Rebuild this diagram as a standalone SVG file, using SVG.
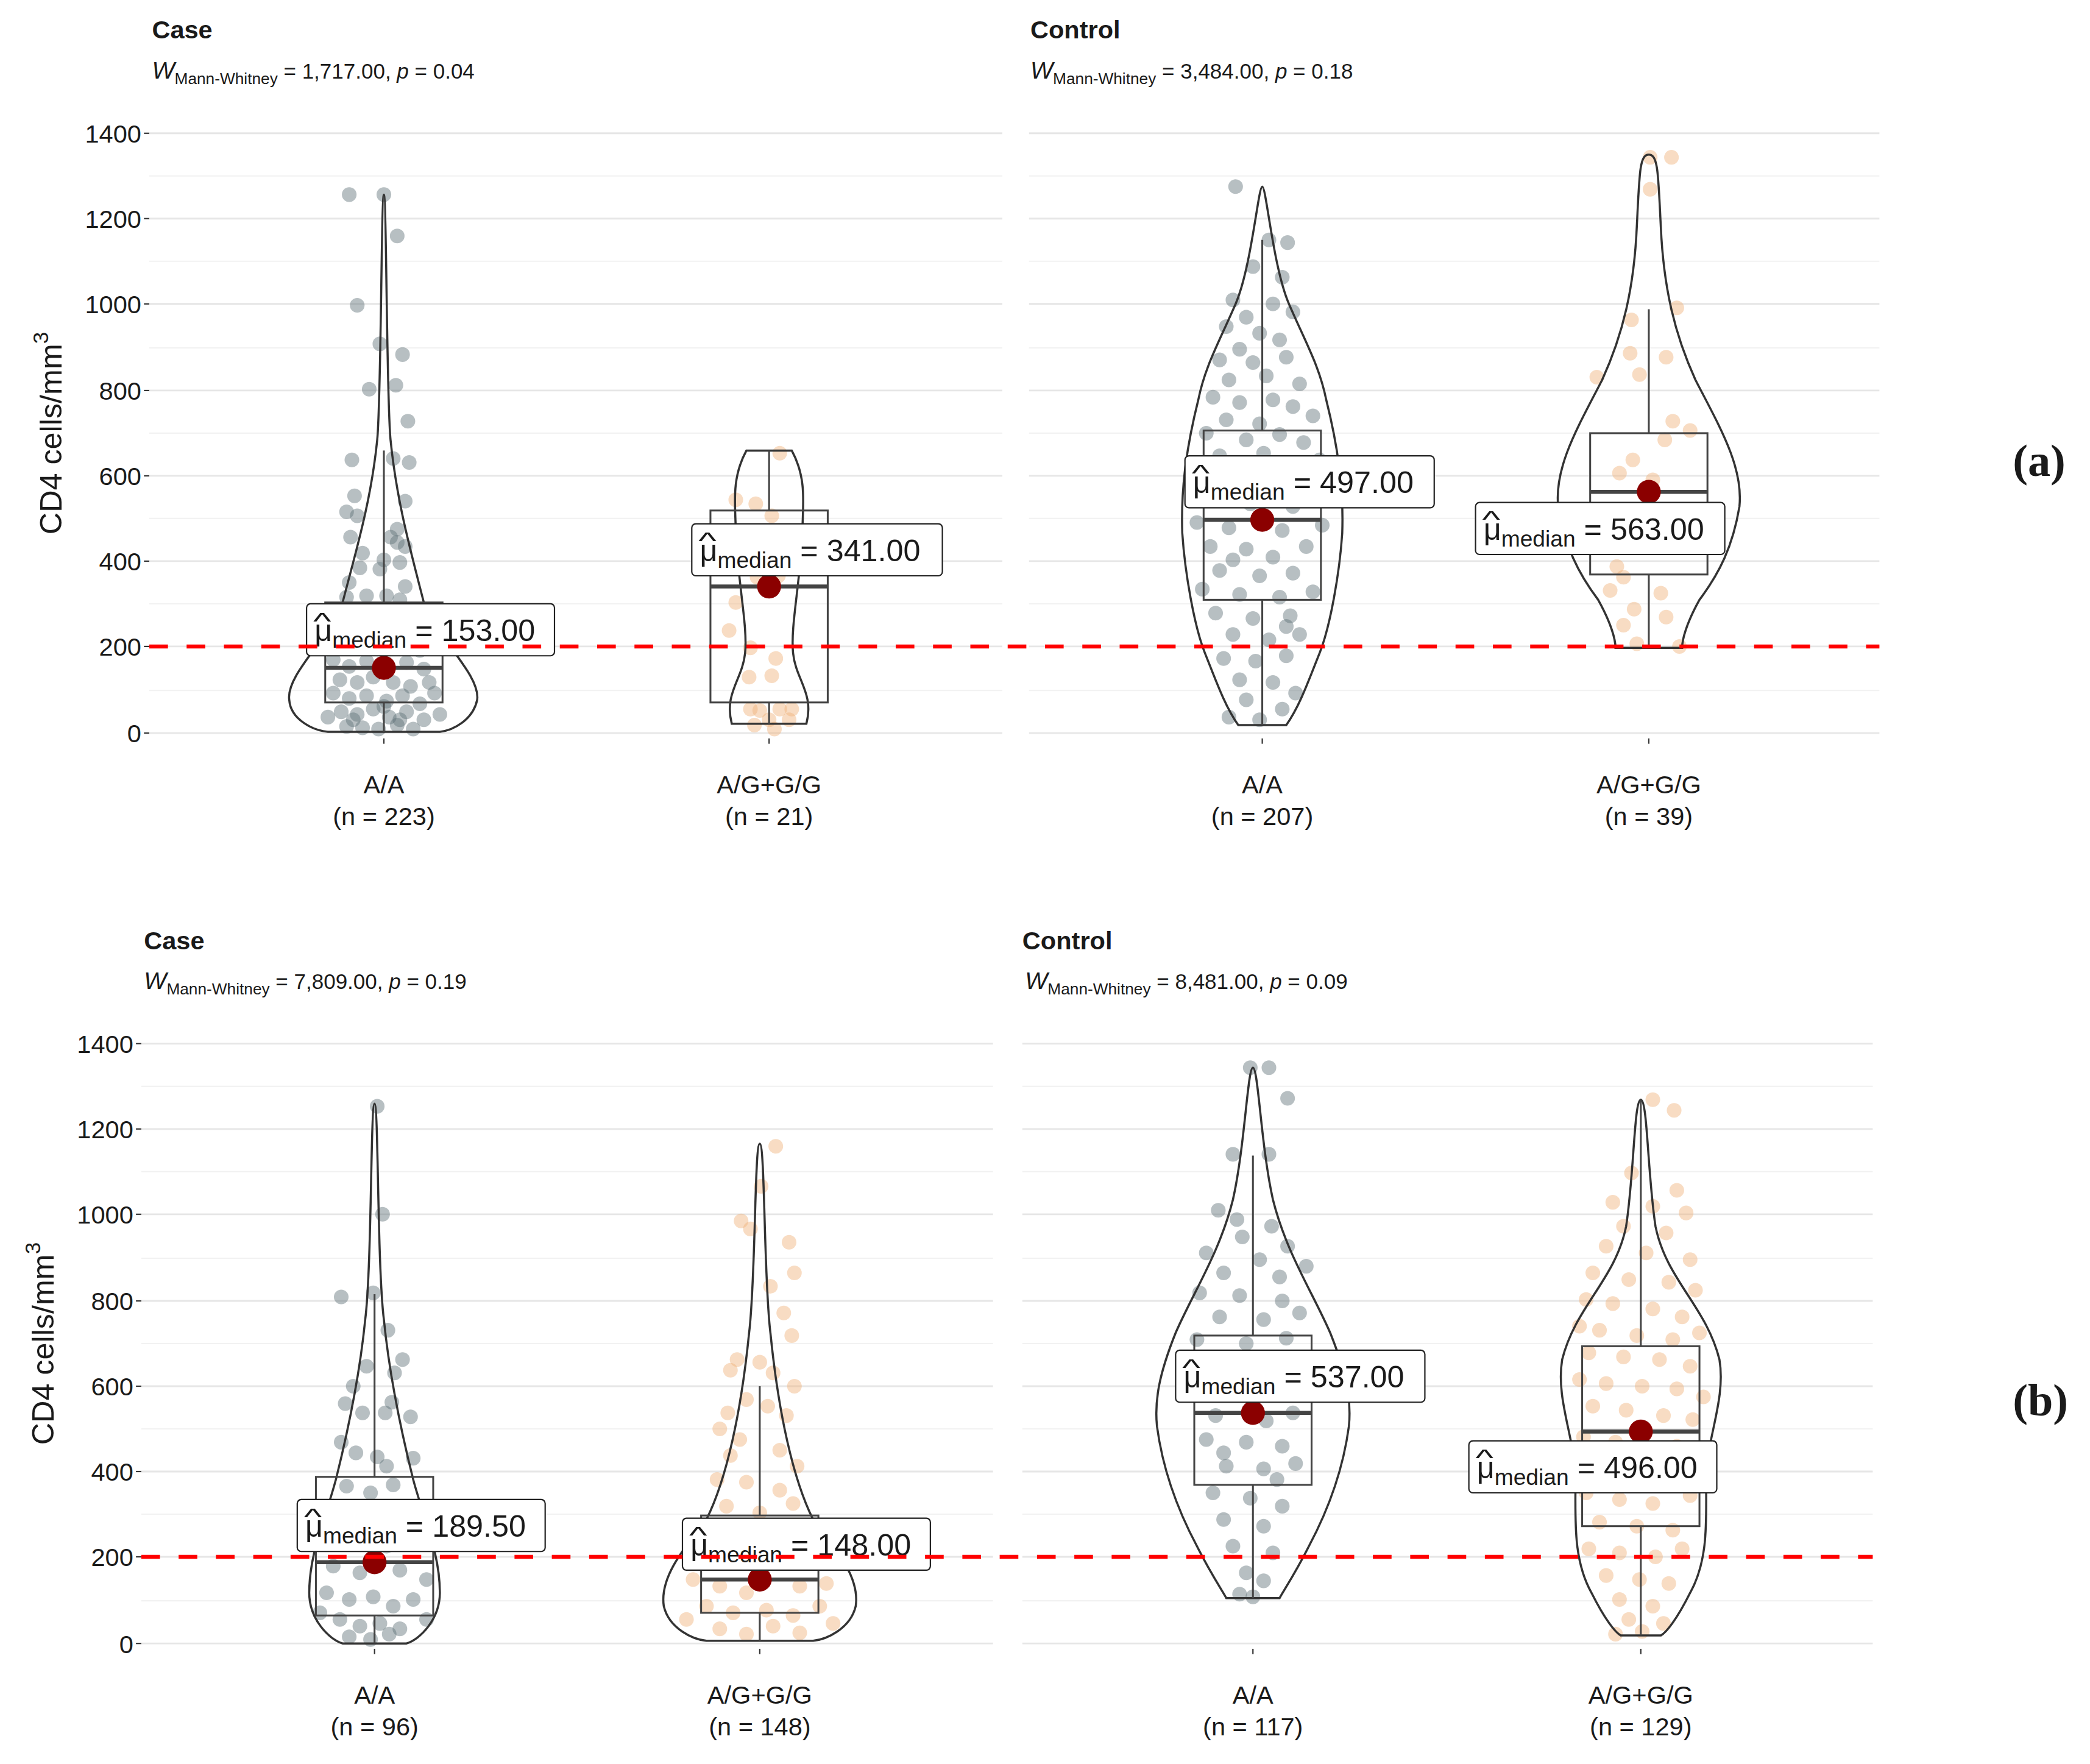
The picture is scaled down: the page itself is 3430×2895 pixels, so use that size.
<svg xmlns="http://www.w3.org/2000/svg" width="3430" height="2895" viewBox="0 0 3430 2895">
<style>
text{font-family:"Liberation Sans",Arial,sans-serif;fill:#1a1a1a}
.t{font-size:19px;font-weight:bold}
.s{font-size:16px}
.sub{font-size:12px}
.tk{font-size:19px;text-anchor:end}
.cx{font-size:19px;text-anchor:middle}
.yt{font-size:23px;text-anchor:middle}
.gM{stroke:#e6e6e6;stroke-width:1.3}
.gm{stroke:#f2f2f2;stroke-width:1}
.tick{stroke:#333;stroke-width:1}
.red{stroke:#ff0000;stroke-width:3;stroke-dasharray:14,14}
.vio{fill:none;stroke:#333;stroke-width:1.6}
.box{fill:none;stroke:#444;stroke-width:1.4}
.med{stroke:#444;stroke-width:3}
.wh{stroke:#444;stroke-width:1.4}
.dot{fill:#8b0000}
.lb{fill:#fff;stroke:#222;stroke-width:1}
.lt{font-size:23px}
.ls{font-size:17px}
.hat{font-size:18px}
.pg circle{fill:#5f7278;fill-opacity:0.45}
.po circle{fill:#f0b27a;fill-opacity:0.45}
.pl{font-family:"Liberation Serif","Times New Roman",serif;font-size:34px;font-weight:bold}
</style>
<rect width="3430" height="2895" fill="#fff"/>
<g transform="scale(2.1875)">
<g id="panel-a-case">
<text class="t" x="114" y="29">Case</text>
<text class="s" x="114" y="59"><tspan font-style="italic" font-size="18px">W</tspan><tspan class="sub" dy="4">Mann-Whitney</tspan><tspan dy="-4"> = 1,717.00, </tspan><tspan font-style="italic">p</tspan> = 0.04</text>
<g>
<line class="gm" x1="112" x2="752" y1="132" y2="132"/><line class="gm" x1="112" x2="752" y1="196" y2="196"/><line class="gm" x1="112" x2="752" y1="261" y2="261"/><line class="gm" x1="112" x2="752" y1="325" y2="325"/><line class="gm" x1="112" x2="752" y1="389" y2="389"/><line class="gm" x1="112" x2="752" y1="453" y2="453"/><line class="gm" x1="112" x2="752" y1="518" y2="518"/>
<line class="gM" x1="112" x2="752" y1="100" y2="100"/><line class="gM" x1="112" x2="752" y1="164" y2="164"/><line class="gM" x1="112" x2="752" y1="228" y2="228"/><line class="gM" x1="112" x2="752" y1="293" y2="293"/><line class="gM" x1="112" x2="752" y1="357" y2="357"/><line class="gM" x1="112" x2="752" y1="421" y2="421"/><line class="gM" x1="112" x2="752" y1="485" y2="485"/><line class="gM" x1="112" x2="752" y1="550" y2="550"/>
</g>
<g class="tick"><line x1="108" x2="112" y1="100" y2="100"/><line x1="108" x2="112" y1="164" y2="164"/><line x1="108" x2="112" y1="228" y2="228"/><line x1="108" x2="112" y1="293" y2="293"/><line x1="108" x2="112" y1="357" y2="357"/><line x1="108" x2="112" y1="421" y2="421"/><line x1="108" x2="112" y1="485" y2="485"/><line x1="108" x2="112" y1="550" y2="550"/><line x1="288" x2="288" y1="554" y2="558"/><line x1="577" x2="577" y1="554" y2="558"/></g>
<text class="tk" x="106" y="107">1400</text><text class="tk" x="106" y="171">1200</text><text class="tk" x="106" y="235">1000</text><text class="tk" x="106" y="300">800</text><text class="tk" x="106" y="364">600</text><text class="tk" x="106" y="428">400</text><text class="tk" x="106" y="492">200</text><text class="tk" x="106" y="557">0</text>
<text class="yt" transform="translate(46,325) rotate(-90)">CD4 cells/mm<tspan font-size="16px" dy="-10">3</tspan></text>
<text class="cx" x="288" y="595">A/A</text><text class="cx" x="288" y="619">(n = 223)</text>
<text class="cx" x="577" y="595">A/G+G/G</text><text class="cx" x="577" y="619">(n = 21)</text>
<g class="pg">
<circle cx="262" cy="146" r="5.5"/><circle cx="288" cy="146" r="5.5"/><circle cx="298" cy="177" r="5.5"/><circle cx="268" cy="229" r="5.5"/><circle cx="285" cy="258" r="5.5"/><circle cx="302" cy="266" r="5.5"/><circle cx="277" cy="292" r="5.5"/><circle cx="297" cy="289" r="5.5"/><circle cx="306" cy="316" r="5.5"/><circle cx="264" cy="345" r="5.5"/><circle cx="295" cy="344" r="5.5"/><circle cx="307" cy="347" r="5.5"/><circle cx="266" cy="372" r="5.5"/><circle cx="304" cy="376" r="5.5"/><circle cx="260" cy="384" r="5.5"/><circle cx="268" cy="387" r="5.5"/><circle cx="298" cy="397" r="5.5"/><circle cx="263" cy="403" r="5.5"/><circle cx="304" cy="410" r="5.5"/><circle cx="272" cy="415" r="5.5"/><circle cx="288" cy="420" r="5.5"/><circle cx="304" cy="440" r="5.5"/><circle cx="262" cy="437" r="5.5"/><circle cx="293" cy="403" r="5.5"/><circle cx="298" cy="407" r="5.5"/><circle cx="270" cy="426" r="5.5"/><circle cx="285" cy="427" r="5.5"/><circle cx="300" cy="422" r="5.5"/><circle cx="260" cy="448" r="5.5"/><circle cx="275" cy="447" r="5.5"/><circle cx="290" cy="447" r="5.5"/><circle cx="300" cy="450" r="5.5"/>
<circle cx="252" cy="470" r="5.5"/><circle cx="262" cy="468" r="5.5"/><circle cx="276" cy="462" r="5.5"/><circle cx="295" cy="465" r="5.5"/><circle cx="310" cy="470" r="5.5"/><circle cx="320" cy="475" r="5.5"/><circle cx="258" cy="480" r="5.5"/><circle cx="270" cy="485" r="5.5"/><circle cx="285" cy="478" r="5.5"/><circle cx="300" cy="482" r="5.5"/><circle cx="315" cy="488" r="5.5"/><circle cx="250" cy="495" r="5.5"/><circle cx="262" cy="500" r="5.5"/><circle cx="275" cy="496" r="5.5"/><circle cx="305" cy="497" r="5.5"/><circle cx="318" cy="502" r="5.5"/><circle cx="255" cy="510" r="5.5"/><circle cx="268" cy="512" r="5.5"/><circle cx="280" cy="508" r="5.5"/><circle cx="295" cy="512" r="5.5"/><circle cx="308" cy="515" r="5.5"/><circle cx="322" cy="512" r="5.5"/><circle cx="250" cy="520" r="5.5"/><circle cx="262" cy="524" r="5.5"/><circle cx="275" cy="522" r="5.5"/><circle cx="290" cy="526" r="5.5"/><circle cx="302" cy="522" r="5.5"/><circle cx="315" cy="528" r="5.5"/><circle cx="326" cy="520" r="5.5"/><circle cx="256" cy="534" r="5.5"/><circle cx="268" cy="536" r="5.5"/><circle cx="280" cy="532" r="5.5"/><circle cx="292" cy="538" r="5.5"/><circle cx="305" cy="534" r="5.5"/><circle cx="318" cy="540" r="5.5"/><circle cx="260" cy="545" r="5.5"/><circle cx="272" cy="546" r="5.5"/><circle cx="284" cy="547" r="5.5"/><circle cx="298" cy="544" r="5.5"/><circle cx="310" cy="547" r="5.5"/><circle cx="246" cy="538" r="5.5"/><circle cx="330" cy="536" r="5.5"/><circle cx="265" cy="540" r="5.5"/><circle cx="300" cy="540" r="5.5"/><circle cx="288" cy="530" r="5.5"/>
</g>
<g class="po">
<circle cx="585" cy="340" r="5.5"/><circle cx="552" cy="375" r="5.5"/><circle cx="567" cy="378" r="5.5"/><circle cx="579" cy="387" r="5.5"/><circle cx="568" cy="433" r="5.5"/><circle cx="584" cy="432" r="5.5"/><circle cx="552" cy="452" r="5.5"/><circle cx="547" cy="473" r="5.5"/><circle cx="563" cy="486" r="5.5"/><circle cx="582" cy="494" r="5.5"/><circle cx="562" cy="508" r="5.5"/><circle cx="579" cy="507" r="5.5"/><circle cx="563" cy="532" r="5.5"/><circle cx="570" cy="533" r="5.5"/><circle cx="585" cy="532" r="5.5"/><circle cx="577" cy="540" r="5.5"/><circle cx="594" cy="532" r="5.5"/><circle cx="566" cy="544" r="5.5"/><circle cx="592" cy="540" r="5.5"/><circle cx="581" cy="547" r="5.5"/>
</g>
<path class="vio" d="M288,146 C290,146 290,300 293,330 C298,380 310,420 320,460 C340,490 360,510 358,525 C355,540 340,548 330,549 L246,549 C235,548 218,540 217,525 C215,510 235,490 255,460 C265,420 278,380 283,330 C286,300 286,146 288,146 Z"/>
<line class="wh" x1="288" x2="288" y1="338" y2="452"/><line class="wh" x1="288" x2="288" y1="527" y2="550"/>
<rect class="box" x="244" y="452" width="88" height="75"/><line class="med" x1="244" x2="332" y1="501" y2="501"/>
<path class="vio" d="M560,338 L594,338 C606,360 602,380 602,400 C600,440 593,470 595,490 C597,510 611,520 605,543 L549,543 C543,520 557,510 559,490 C561,470 554,440 552,400 C552,380 548,360 560,338 Z"/>
<line class="wh" x1="577" x2="577" y1="338" y2="383"/><line class="wh" x1="577" x2="577" y1="527" y2="543"/>
<rect class="box" x="533" y="383" width="88" height="144"/><line class="med" x1="533" x2="621" y1="440" y2="440"/>
</g>
<g id="panel-a-control">
<text class="t" x="773" y="29">Control</text>
<text class="s" x="773" y="59"><tspan font-style="italic" font-size="18px">W</tspan><tspan class="sub" dy="4">Mann-Whitney</tspan><tspan dy="-4"> = 3,484.00, </tspan><tspan font-style="italic">p</tspan> = 0.18</text>
<g>
<line class="gm" x1="772" x2="1410" y1="132" y2="132"/><line class="gm" x1="772" x2="1410" y1="196" y2="196"/><line class="gm" x1="772" x2="1410" y1="261" y2="261"/><line class="gm" x1="772" x2="1410" y1="325" y2="325"/><line class="gm" x1="772" x2="1410" y1="389" y2="389"/><line class="gm" x1="772" x2="1410" y1="453" y2="453"/><line class="gm" x1="772" x2="1410" y1="518" y2="518"/>
<line class="gM" x1="772" x2="1410" y1="100" y2="100"/><line class="gM" x1="772" x2="1410" y1="164" y2="164"/><line class="gM" x1="772" x2="1410" y1="228" y2="228"/><line class="gM" x1="772" x2="1410" y1="293" y2="293"/><line class="gM" x1="772" x2="1410" y1="357" y2="357"/><line class="gM" x1="772" x2="1410" y1="421" y2="421"/><line class="gM" x1="772" x2="1410" y1="485" y2="485"/><line class="gM" x1="772" x2="1410" y1="550" y2="550"/>
</g>
<g class="tick"><line x1="947" x2="947" y1="554" y2="558"/><line x1="1237" x2="1237" y1="554" y2="558"/></g>
<text class="cx" x="947" y="595">A/A</text><text class="cx" x="947" y="619">(n = 207)</text>
<text class="cx" x="1237" y="595">A/G+G/G</text><text class="cx" x="1237" y="619">(n = 39)</text>
<g class="pg">
<circle cx="927" cy="140" r="5.5"/><circle cx="952" cy="180" r="5.5"/><circle cx="966" cy="182" r="5.5"/><circle cx="940" cy="200" r="5.5"/><circle cx="962" cy="208" r="5.5"/><circle cx="925" cy="225" r="5.5"/><circle cx="955" cy="228" r="5.5"/><circle cx="935" cy="238" r="5.5"/><circle cx="970" cy="234" r="5.5"/><circle cx="920" cy="245" r="5.5"/><circle cx="945" cy="250" r="5.5"/><circle cx="960" cy="255" r="5.5"/><circle cx="930" cy="262" r="5.5"/><circle cx="915" cy="270" r="5.5"/><circle cx="940" cy="272" r="5.5"/><circle cx="965" cy="268" r="5.5"/><circle cx="922" cy="285" r="5.5"/><circle cx="950" cy="282" r="5.5"/><circle cx="975" cy="288" r="5.5"/><circle cx="910" cy="298" r="5.5"/><circle cx="930" cy="302" r="5.5"/><circle cx="955" cy="300" r="5.5"/><circle cx="970" cy="305" r="5.5"/><circle cx="920" cy="315" r="5.5"/><circle cx="945" cy="318" r="5.5"/><circle cx="985" cy="312" r="5.5"/><circle cx="905" cy="325" r="5.5"/><circle cx="935" cy="330" r="5.5"/><circle cx="960" cy="326" r="5.5"/><circle cx="978" cy="332" r="5.5"/><circle cx="915" cy="342" r="5.5"/><circle cx="948" cy="340" r="5.5"/><circle cx="968" cy="348" r="5.5"/><circle cx="990" cy="345" r="5.5"/><circle cx="900" cy="356" r="5.5"/><circle cx="928" cy="360" r="5.5"/><circle cx="958" cy="362" r="5.5"/><circle cx="982" cy="366" r="5.5"/><circle cx="910" cy="375" r="5.5"/><circle cx="938" cy="378" r="5.5"/><circle cx="970" cy="380" r="5.5"/><circle cx="898" cy="392" r="5.5"/><circle cx="922" cy="396" r="5.5"/><circle cx="962" cy="398" r="5.5"/><circle cx="992" cy="394" r="5.5"/><circle cx="908" cy="410" r="5.5"/><circle cx="935" cy="412" r="5.5"/><circle cx="955" cy="418" r="5.5"/><circle cx="980" cy="410" r="5.5"/><circle cx="915" cy="428" r="5.5"/><circle cx="945" cy="432" r="5.5"/><circle cx="970" cy="430" r="5.5"/><circle cx="902" cy="442" r="5.5"/><circle cx="930" cy="446" r="5.5"/><circle cx="960" cy="448" r="5.5"/><circle cx="985" cy="444" r="5.5"/><circle cx="912" cy="460" r="5.5"/><circle cx="940" cy="464" r="5.5"/><circle cx="968" cy="462" r="5.5"/><circle cx="925" cy="476" r="5.5"/><circle cx="952" cy="480" r="5.5"/><circle cx="975" cy="476" r="5.5"/><circle cx="918" cy="494" r="5.5"/><circle cx="942" cy="496" r="5.5"/><circle cx="965" cy="492" r="5.5"/><circle cx="930" cy="510" r="5.5"/><circle cx="955" cy="512" r="5.5"/><circle cx="972" cy="520" r="5.5"/><circle cx="935" cy="525" r="5.5"/><circle cx="922" cy="538" r="5.5"/><circle cx="945" cy="540" r="5.5"/><circle cx="962" cy="532" r="5.5"/><circle cx="950" cy="352" r="5.5"/><circle cx="925" cy="420" r="5.5"/><circle cx="965" cy="470" r="5.5"/>
</g>
<g class="po">
<circle cx="1238" cy="118" r="5.5"/><circle cx="1254" cy="118" r="5.5"/><circle cx="1238" cy="142" r="5.5"/><circle cx="1258" cy="231" r="5.5"/><circle cx="1224" cy="240" r="5.5"/><circle cx="1223" cy="265" r="5.5"/><circle cx="1250" cy="268" r="5.5"/><circle cx="1198" cy="283" r="5.5"/><circle cx="1230" cy="281" r="5.5"/><circle cx="1255" cy="316" r="5.5"/><circle cx="1268" cy="323" r="5.5"/><circle cx="1249" cy="330" r="5.5"/><circle cx="1225" cy="345" r="5.5"/><circle cx="1215" cy="355" r="5.5"/><circle cx="1240" cy="360" r="5.5"/><circle cx="1213" cy="425" r="5.5"/><circle cx="1218" cy="433" r="5.5"/><circle cx="1246" cy="445" r="5.5"/><circle cx="1208" cy="443" r="5.5"/><circle cx="1226" cy="457" r="5.5"/><circle cx="1218" cy="469" r="5.5"/><circle cx="1250" cy="463" r="5.5"/><circle cx="1228" cy="483" r="5.5"/><circle cx="1260" cy="485" r="5.5"/>
</g>
<path class="vio" d="M947,140 C950,140 955,200 967,228 C980,258 990,275 995,300 C1005,340 1008,370 1007,400 C1005,430 998,470 990,490 C982,510 975,530 965,544 L929,544 C919,530 912,510 904,490 C896,470 889,430 887,400 C886,370 889,340 899,300 C904,275 914,258 927,228 C939,200 944,140 947,140 Z"/>
<line class="wh" x1="947" x2="947" y1="180" y2="323"/><line class="wh" x1="947" x2="947" y1="450" y2="544"/>
<rect class="box" x="903" y="323" width="88" height="127"/><line class="med" x1="903" x2="991" y1="390" y2="390"/>
<path class="vio" d="M1237,116 C1244,116 1244,130 1246,170 C1248,215 1256,250 1272,285 C1290,320 1308,350 1305,380 C1300,410 1290,430 1275,450 C1265,468 1262,480 1262,486 L1212,486 C1212,480 1209,468 1199,450 C1184,430 1174,410 1169,380 C1166,350 1184,320 1202,285 C1218,250 1226,215 1228,170 C1230,130 1230,116 1237,116 Z"/>
<line class="wh" x1="1237" x2="1237" y1="232" y2="325"/><line class="wh" x1="1237" x2="1237" y1="431" y2="486"/>
<rect class="box" x="1193" y="325" width="88" height="106"/><line class="med" x1="1193" x2="1281" y1="369" y2="369"/>
</g>
<g id="panel-b-case">
<text class="t" x="108" y="712">Case</text>
<text class="s" x="108" y="742"><tspan font-style="italic" font-size="18px">W</tspan><tspan class="sub" dy="4">Mann-Whitney</tspan><tspan dy="-4"> = 7,809.00, </tspan><tspan font-style="italic">p</tspan> = 0.19</text>
<g>
<line class="gm" x1="106" x2="745" y1="815" y2="815"/><line class="gm" x1="106" x2="745" y1="879" y2="879"/><line class="gm" x1="106" x2="745" y1="944" y2="944"/><line class="gm" x1="106" x2="745" y1="1008" y2="1008"/><line class="gm" x1="106" x2="745" y1="1072" y2="1072"/><line class="gm" x1="106" x2="745" y1="1136" y2="1136"/><line class="gm" x1="106" x2="745" y1="1201" y2="1201"/>
<line class="gM" x1="106" x2="745" y1="783" y2="783"/><line class="gM" x1="106" x2="745" y1="847" y2="847"/><line class="gM" x1="106" x2="745" y1="911" y2="911"/><line class="gM" x1="106" x2="745" y1="976" y2="976"/><line class="gM" x1="106" x2="745" y1="1040" y2="1040"/><line class="gM" x1="106" x2="745" y1="1104" y2="1104"/><line class="gM" x1="106" x2="745" y1="1168" y2="1168"/><line class="gM" x1="106" x2="745" y1="1233" y2="1233"/>
</g>
<g class="tick"><line x1="102" x2="106" y1="783" y2="783"/><line x1="102" x2="106" y1="847" y2="847"/><line x1="102" x2="106" y1="911" y2="911"/><line x1="102" x2="106" y1="976" y2="976"/><line x1="102" x2="106" y1="1040" y2="1040"/><line x1="102" x2="106" y1="1104" y2="1104"/><line x1="102" x2="106" y1="1168" y2="1168"/><line x1="102" x2="106" y1="1233" y2="1233"/><line x1="281" x2="281" y1="1237" y2="1241"/><line x1="570" x2="570" y1="1237" y2="1241"/></g>
<text class="tk" x="100" y="790">1400</text><text class="tk" x="100" y="854">1200</text><text class="tk" x="100" y="918">1000</text><text class="tk" x="100" y="983">800</text><text class="tk" x="100" y="1047">600</text><text class="tk" x="100" y="1111">400</text><text class="tk" x="100" y="1175">200</text><text class="tk" x="100" y="1240">0</text>
<text class="yt" transform="translate(40,1008) rotate(-90)">CD4 cells/mm<tspan font-size="16px" dy="-10">3</tspan></text>
<text class="cx" x="281" y="1278">A/A</text><text class="cx" x="281" y="1302">(n = 96)</text>
<text class="cx" x="570" y="1278">A/G+G/G</text><text class="cx" x="570" y="1302">(n = 148)</text>
<g class="pg">
<circle cx="283" cy="830" r="5.5"/><circle cx="287" cy="911" r="5.5"/><circle cx="280" cy="970" r="5.5"/><circle cx="256" cy="973" r="5.5"/><circle cx="291" cy="998" r="5.5"/><circle cx="302" cy="1020" r="5.5"/><circle cx="275" cy="1025" r="5.5"/><circle cx="296" cy="1030" r="5.5"/><circle cx="265" cy="1040" r="5.5"/><circle cx="259" cy="1053" r="5.5"/><circle cx="294" cy="1052" r="5.5"/><circle cx="308" cy="1063" r="5.5"/><circle cx="272" cy="1060" r="5.5"/><circle cx="289" cy="1060" r="5.5"/><circle cx="256" cy="1082" r="5.5"/><circle cx="267" cy="1090" r="5.5"/><circle cx="283" cy="1093" r="5.5"/><circle cx="290" cy="1100" r="5.5"/><circle cx="310" cy="1094" r="5.5"/><circle cx="260" cy="1115" r="5.5"/><circle cx="278" cy="1120" r="5.5"/><circle cx="295" cy="1114" r="5.5"/><circle cx="250" cy="1130" r="5.5"/><circle cx="270" cy="1140" r="5.5"/><circle cx="300" cy="1135" r="5.5"/><circle cx="245" cy="1150" r="5.5"/><circle cx="262" cy="1158" r="5.5"/><circle cx="290" cy="1160" r="5.5"/><circle cx="315" cy="1150" r="5.5"/><circle cx="250" cy="1175" r="5.5"/><circle cx="270" cy="1180" r="5.5"/><circle cx="300" cy="1178" r="5.5"/><circle cx="320" cy="1185" r="5.5"/><circle cx="245" cy="1195" r="5.5"/><circle cx="262" cy="1200" r="5.5"/><circle cx="280" cy="1198" r="5.5"/><circle cx="295" cy="1205" r="5.5"/><circle cx="310" cy="1200" r="5.5"/><circle cx="255" cy="1215" r="5.5"/><circle cx="270" cy="1220" r="5.5"/><circle cx="285" cy="1218" r="5.5"/><circle cx="300" cy="1222" r="5.5"/><circle cx="262" cy="1228" r="5.5"/><circle cx="278" cy="1230" r="5.5"/><circle cx="292" cy="1226" r="5.5"/><circle cx="240" cy="1210" r="5.5"/><circle cx="320" cy="1215" r="5.5"/>
</g>
<g class="po">
<circle cx="582" cy="860" r="5.5"/><circle cx="571" cy="890" r="5.5"/><circle cx="556" cy="916" r="5.5"/><circle cx="563" cy="922" r="5.5"/><circle cx="592" cy="932" r="5.5"/><circle cx="596" cy="955" r="5.5"/><circle cx="578" cy="965" r="5.5"/><circle cx="588" cy="985" r="5.5"/><circle cx="594" cy="1002" r="5.5"/><circle cx="553" cy="1020" r="5.5"/><circle cx="548" cy="1028" r="5.5"/><circle cx="570" cy="1022" r="5.5"/><circle cx="580" cy="1030" r="5.5"/><circle cx="596" cy="1040" r="5.5"/><circle cx="560" cy="1050" r="5.5"/><circle cx="576" cy="1055" r="5.5"/><circle cx="546" cy="1060" r="5.5"/><circle cx="590" cy="1062" r="5.5"/><circle cx="540" cy="1072" r="5.5"/><circle cx="555" cy="1080" r="5.5"/><circle cx="585" cy="1088" r="5.5"/><circle cx="548" cy="1092" r="5.5"/><circle cx="598" cy="1100" r="5.5"/><circle cx="538" cy="1110" r="5.5"/><circle cx="560" cy="1112" r="5.5"/><circle cx="585" cy="1118" r="5.5"/><circle cx="545" cy="1130" r="5.5"/><circle cx="570" cy="1135" r="5.5"/><circle cx="595" cy="1128" r="5.5"/><circle cx="530" cy="1145" r="5.5"/><circle cx="555" cy="1150" r="5.5"/><circle cx="580" cy="1148" r="5.5"/><circle cx="605" cy="1155" r="5.5"/><circle cx="525" cy="1165" r="5.5"/><circle cx="545" cy="1170" r="5.5"/><circle cx="590" cy="1168" r="5.5"/><circle cx="612" cy="1172" r="5.5"/><circle cx="520" cy="1185" r="5.5"/><circle cx="540" cy="1190" r="5.5"/><circle cx="560" cy="1195" r="5.5"/><circle cx="600" cy="1190" r="5.5"/><circle cx="620" cy="1188" r="5.5"/><circle cx="530" cy="1205" r="5.5"/><circle cx="550" cy="1210" r="5.5"/><circle cx="575" cy="1208" r="5.5"/><circle cx="595" cy="1212" r="5.5"/><circle cx="615" cy="1205" r="5.5"/><circle cx="540" cy="1222" r="5.5"/><circle cx="560" cy="1226" r="5.5"/><circle cx="580" cy="1220" r="5.5"/><circle cx="600" cy="1225" r="5.5"/><circle cx="625" cy="1218" r="5.5"/><circle cx="515" cy="1215" r="5.5"/>
</g>
<path class="vio" d="M281,828 C284,828 283,950 288,990 C292,1030 300,1070 310,1110 C318,1140 330,1165 330,1195 C330,1215 315,1230 305,1233 L257,1233 C247,1230 232,1215 232,1195 C232,1165 244,1140 252,1110 C262,1070 270,1030 274,990 C279,950 278,828 281,828 Z"/>
<line class="wh" x1="281" x2="281" y1="971" y2="1108"/><line class="wh" x1="281" x2="281" y1="1212" y2="1233"/>
<rect class="box" x="237" y="1108" width="88" height="104"/><line class="med" x1="237" x2="325" y1="1172" y2="1172"/>
<path class="vio" d="M570,858 C574,858 573,960 578,1000 C584,1060 595,1110 610,1140 C630,1165 645,1185 642,1205 C638,1222 620,1230 610,1231 L530,1231 C520,1230 502,1222 498,1205 C495,1185 510,1165 530,1140 C545,1110 556,1060 562,1000 C567,960 566,858 570,858 Z"/>
<line class="wh" x1="570" x2="570" y1="1040" y2="1137"/><line class="wh" x1="570" x2="570" y1="1210" y2="1231"/>
<rect class="box" x="526" y="1137" width="88" height="73"/><line class="med" x1="526" x2="614" y1="1185" y2="1185"/>
</g>
<g id="panel-b-control">
<text class="t" x="767" y="712">Control</text>
<text class="s" x="769" y="742"><tspan font-style="italic" font-size="18px">W</tspan><tspan class="sub" dy="4">Mann-Whitney</tspan><tspan dy="-4"> = 8,481.00, </tspan><tspan font-style="italic">p</tspan> = 0.09</text>
<g>
<line class="gm" x1="767" x2="1405" y1="815" y2="815"/><line class="gm" x1="767" x2="1405" y1="879" y2="879"/><line class="gm" x1="767" x2="1405" y1="944" y2="944"/><line class="gm" x1="767" x2="1405" y1="1008" y2="1008"/><line class="gm" x1="767" x2="1405" y1="1072" y2="1072"/><line class="gm" x1="767" x2="1405" y1="1136" y2="1136"/><line class="gm" x1="767" x2="1405" y1="1201" y2="1201"/>
<line class="gM" x1="767" x2="1405" y1="783" y2="783"/><line class="gM" x1="767" x2="1405" y1="847" y2="847"/><line class="gM" x1="767" x2="1405" y1="911" y2="911"/><line class="gM" x1="767" x2="1405" y1="976" y2="976"/><line class="gM" x1="767" x2="1405" y1="1040" y2="1040"/><line class="gM" x1="767" x2="1405" y1="1104" y2="1104"/><line class="gM" x1="767" x2="1405" y1="1168" y2="1168"/><line class="gM" x1="767" x2="1405" y1="1233" y2="1233"/>
</g>
<g class="tick"><line x1="940" x2="940" y1="1237" y2="1241"/><line x1="1231" x2="1231" y1="1237" y2="1241"/></g>
<text class="cx" x="940" y="1278">A/A</text><text class="cx" x="940" y="1302">(n = 117)</text>
<text class="cx" x="1231" y="1278">A/G+G/G</text><text class="cx" x="1231" y="1302">(n = 129)</text>
<g class="pg">
<circle cx="938" cy="801" r="5.5"/><circle cx="952" cy="801" r="5.5"/><circle cx="966" cy="824" r="5.5"/><circle cx="925" cy="866" r="5.5"/><circle cx="952" cy="866" r="5.5"/><circle cx="914" cy="908" r="5.5"/><circle cx="928" cy="915" r="5.5"/><circle cx="954" cy="920" r="5.5"/><circle cx="932" cy="928" r="5.5"/><circle cx="966" cy="935" r="5.5"/><circle cx="905" cy="940" r="5.5"/><circle cx="945" cy="945" r="5.5"/><circle cx="918" cy="955" r="5.5"/><circle cx="960" cy="958" r="5.5"/><circle cx="980" cy="950" r="5.5"/><circle cx="900" cy="970" r="5.5"/><circle cx="930" cy="972" r="5.5"/><circle cx="962" cy="976" r="5.5"/><circle cx="915" cy="988" r="5.5"/><circle cx="948" cy="990" r="5.5"/><circle cx="975" cy="985" r="5.5"/><circle cx="898" cy="1005" r="5.5"/><circle cx="935" cy="1008" r="5.5"/><circle cx="965" cy="1004" r="5.5"/><circle cx="910" cy="1022" r="5.5"/><circle cx="945" cy="1025" r="5.5"/><circle cx="985" cy="1020" r="5.5"/><circle cx="902" cy="1040" r="5.5"/><circle cx="930" cy="1042" r="5.5"/><circle cx="960" cy="1045" r="5.5"/><circle cx="978" cy="1038" r="5.5"/><circle cx="912" cy="1062" r="5.5"/><circle cx="950" cy="1066" r="5.5"/><circle cx="970" cy="1060" r="5.5"/><circle cx="905" cy="1080" r="5.5"/><circle cx="935" cy="1082" r="5.5"/><circle cx="962" cy="1085" r="5.5"/><circle cx="920" cy="1100" r="5.5"/><circle cx="948" cy="1102" r="5.5"/><circle cx="972" cy="1098" r="5.5"/><circle cx="910" cy="1120" r="5.5"/><circle cx="938" cy="1124" r="5.5"/><circle cx="962" cy="1130" r="5.5"/><circle cx="918" cy="1140" r="5.5"/><circle cx="948" cy="1145" r="5.5"/><circle cx="925" cy="1160" r="5.5"/><circle cx="955" cy="1165" r="5.5"/><circle cx="935" cy="1180" r="5.5"/><circle cx="948" cy="1186" r="5.5"/><circle cx="930" cy="1196" r="5.5"/><circle cx="940" cy="1198" r="5.5"/><circle cx="918" cy="1090" r="5.5"/><circle cx="958" cy="1110" r="5.5"/>
</g>
<g class="po">
<circle cx="1240" cy="825" r="5.5"/><circle cx="1256" cy="833" r="5.5"/><circle cx="1224" cy="880" r="5.5"/><circle cx="1258" cy="893" r="5.5"/><circle cx="1210" cy="902" r="5.5"/><circle cx="1240" cy="905" r="5.5"/><circle cx="1265" cy="910" r="5.5"/><circle cx="1218" cy="920" r="5.5"/><circle cx="1250" cy="925" r="5.5"/><circle cx="1205" cy="935" r="5.5"/><circle cx="1235" cy="940" r="5.5"/><circle cx="1268" cy="945" r="5.5"/><circle cx="1195" cy="955" r="5.5"/><circle cx="1222" cy="960" r="5.5"/><circle cx="1252" cy="962" r="5.5"/><circle cx="1272" cy="968" r="5.5"/><circle cx="1190" cy="975" r="5.5"/><circle cx="1210" cy="978" r="5.5"/><circle cx="1240" cy="982" r="5.5"/><circle cx="1262" cy="988" r="5.5"/><circle cx="1185" cy="995" r="5.5"/><circle cx="1200" cy="998" r="5.5"/><circle cx="1228" cy="1002" r="5.5"/><circle cx="1255" cy="1005" r="5.5"/><circle cx="1275" cy="1000" r="5.5"/><circle cx="1192" cy="1015" r="5.5"/><circle cx="1218" cy="1018" r="5.5"/><circle cx="1245" cy="1020" r="5.5"/><circle cx="1268" cy="1025" r="5.5"/><circle cx="1185" cy="1035" r="5.5"/><circle cx="1205" cy="1038" r="5.5"/><circle cx="1232" cy="1040" r="5.5"/><circle cx="1258" cy="1042" r="5.5"/><circle cx="1278" cy="1048" r="5.5"/><circle cx="1195" cy="1055" r="5.5"/><circle cx="1220" cy="1058" r="5.5"/><circle cx="1248" cy="1062" r="5.5"/><circle cx="1270" cy="1065" r="5.5"/><circle cx="1188" cy="1078" r="5.5"/><circle cx="1212" cy="1082" r="5.5"/><circle cx="1258" cy="1085" r="5.5"/><circle cx="1275" cy="1090" r="5.5"/><circle cx="1198" cy="1100" r="5.5"/><circle cx="1225" cy="1102" r="5.5"/><circle cx="1250" cy="1108" r="5.5"/><circle cx="1190" cy="1120" r="5.5"/><circle cx="1215" cy="1125" r="5.5"/><circle cx="1240" cy="1128" r="5.5"/><circle cx="1268" cy="1122" r="5.5"/><circle cx="1200" cy="1142" r="5.5"/><circle cx="1228" cy="1145" r="5.5"/><circle cx="1255" cy="1148" r="5.5"/><circle cx="1192" cy="1162" r="5.5"/><circle cx="1215" cy="1165" r="5.5"/><circle cx="1242" cy="1168" r="5.5"/><circle cx="1262" cy="1162" r="5.5"/><circle cx="1205" cy="1182" r="5.5"/><circle cx="1230" cy="1185" r="5.5"/><circle cx="1252" cy="1188" r="5.5"/><circle cx="1215" cy="1200" r="5.5"/><circle cx="1240" cy="1205" r="5.5"/><circle cx="1222" cy="1215" r="5.5"/><circle cx="1248" cy="1218" r="5.5"/><circle cx="1232" cy="1224" r="5.5"/><circle cx="1212" cy="1226" r="5.5"/>
</g>
<path class="vio" d="M940,801 C944,801 946,860 955,900 C965,940 985,970 998,1000 C1010,1030 1014,1050 1012,1070 C1008,1100 998,1130 982,1160 C972,1180 962,1195 960,1199 L920,1199 C918,1195 908,1180 898,1160 C882,1130 872,1100 868,1070 C866,1050 870,1030 882,1000 C895,970 915,940 925,900 C934,860 936,801 940,801 Z"/>
<line class="wh" x1="940" x2="940" y1="867" y2="1002"/><line class="wh" x1="940" x2="940" y1="1114" y2="1199"/>
<rect class="box" x="896" y="1002" width="88" height="112"/><line class="med" x1="896" x2="984" y1="1060" y2="1060"/>
<path class="vio" d="M1231,825 C1236,825 1236,880 1242,920 C1250,960 1280,980 1290,1020 C1295,1050 1280,1080 1280,1110 C1280,1140 1282,1170 1268,1195 C1258,1215 1250,1225 1246,1227 L1216,1227 C1212,1225 1204,1215 1194,1195 C1180,1170 1182,1140 1182,1110 C1182,1080 1167,1050 1172,1020 C1182,980 1212,960 1220,920 C1226,880 1226,825 1231,825 Z"/>
<line class="wh" x1="1231" x2="1231" y1="825" y2="1010"/><line class="wh" x1="1231" x2="1231" y1="1145" y2="1227"/>
<rect class="box" x="1187" y="1010" width="88" height="135"/><line class="med" x1="1187" x2="1275" y1="1074" y2="1074"/>
</g>
<g id="medians">
<circle class="dot" cx="288" cy="501" r="9"/><circle class="dot" cx="577" cy="440" r="9"/><circle class="dot" cx="947" cy="390" r="9"/><circle class="dot" cx="1237" cy="369" r="9"/>
<circle class="dot" cx="281" cy="1172" r="9"/><circle class="dot" cx="570" cy="1185" r="9"/><circle class="dot" cx="940" cy="1060" r="9"/><circle class="dot" cx="1231" cy="1074" r="9"/>
</g>
<g id="labels">
<rect class="lb" x="230" y="453" width="186" height="39" rx="3"/><text class="lt" x="236" y="481">μ<tspan class="ls" dy="5">median</tspan><tspan dy="-5"> = 153.00</tspan></text><text class="hat" transform="translate(235,472) scale(1.6,1)">^</text>
<rect class="lb" x="519" y="393" width="188" height="39" rx="3"/><text class="lt" x="525" y="421">μ<tspan class="ls" dy="5">median</tspan><tspan dy="-5"> = 341.00</tspan></text><text class="hat" transform="translate(524,412) scale(1.6,1)">^</text>
<rect class="lb" x="889" y="342" width="187" height="39" rx="3"/><text class="lt" x="895" y="370">μ<tspan class="ls" dy="5">median</tspan><tspan dy="-5"> = 497.00</tspan></text><text class="hat" transform="translate(894,361) scale(1.6,1)">^</text>
<rect class="lb" x="1107" y="377" width="187" height="39" rx="3"/><text class="lt" x="1113" y="405">μ<tspan class="ls" dy="5">median</tspan><tspan dy="-5"> = 563.00</tspan></text><text class="hat" transform="translate(1112,396) scale(1.6,1)">^</text>
<rect class="lb" x="223" y="1125" width="186" height="39" rx="3"/><text class="lt" x="229" y="1153">μ<tspan class="ls" dy="5">median</tspan><tspan dy="-5"> = 189.50</tspan></text><text class="hat" transform="translate(228,1144) scale(1.6,1)">^</text>
<rect class="lb" x="512" y="1139" width="186" height="39" rx="3"/><text class="lt" x="518" y="1167">μ<tspan class="ls" dy="5">median</tspan><tspan dy="-5"> = 148.00</tspan></text><text class="hat" transform="translate(517,1158) scale(1.6,1)">^</text>
<rect class="lb" x="882" y="1013" width="187" height="39" rx="3"/><text class="lt" x="888" y="1041">μ<tspan class="ls" dy="5">median</tspan><tspan dy="-5"> = 537.00</tspan></text><text class="hat" transform="translate(887,1032) scale(1.6,1)">^</text>
<rect class="lb" x="1102" y="1081" width="186" height="39" rx="3"/><text class="lt" x="1108" y="1109">μ<tspan class="ls" dy="5">median</tspan><tspan dy="-5"> = 496.00</tspan></text><text class="hat" transform="translate(1107,1100) scale(1.6,1)">^</text>
</g>
<g id="connectors">
<line class="red" x1="112" x2="1410" y1="485" y2="485"/>
<line class="red" x1="106" x2="1405" y1="1168" y2="1168"/>
</g>
<text class="pl" x="1510" y="357">(a)</text>
<text class="pl" x="1510" y="1062">(b)</text>
</g>
</svg>
